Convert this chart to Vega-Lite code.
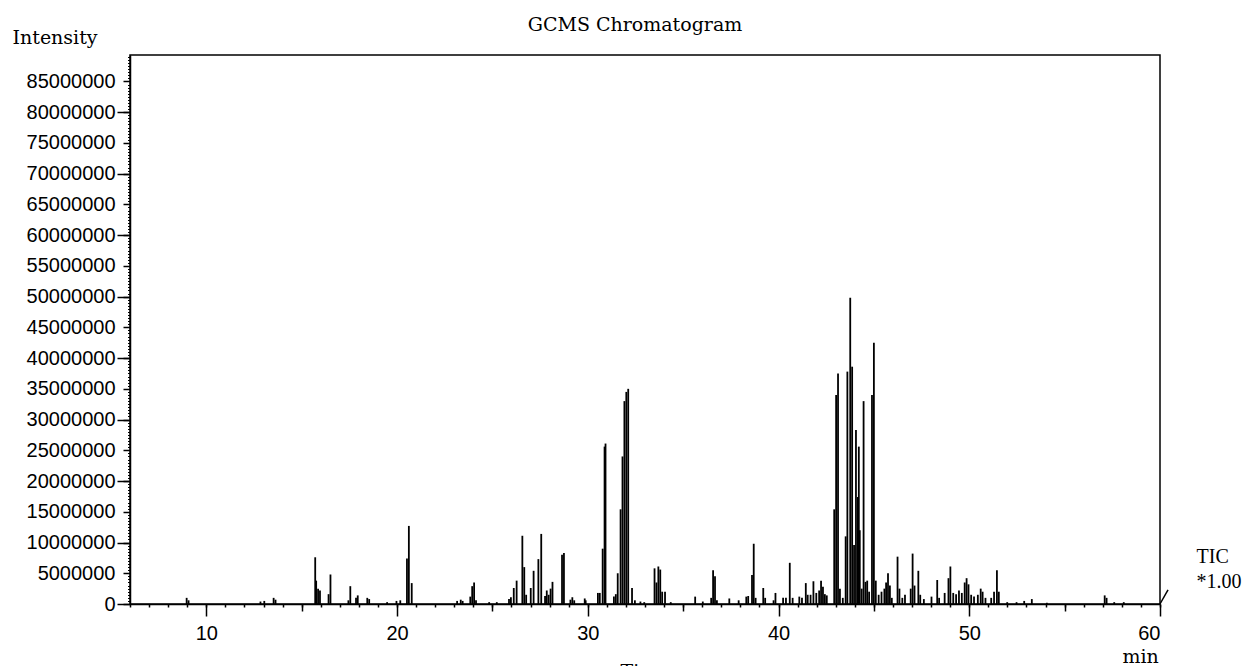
{
  "$schema": "https://vega.github.io/schema/vega-lite/v6.json",
  "width": 1030,
  "height": 549,
  "autosize": {"type": "none"},
  "padding": {"left": 130, "top": 55, "right": 83, "bottom": 62},
  "background": "white",
  "title": {"text": "GCMS Chromatogram", "font": "DejaVu Serif", "fontSize": 19, "fontWeight": "normal", "color": "black", "anchor": "middle", "frame": "group", "dx": -10, "offset": -7},
  "config": {
    "view": {"stroke": "black", "strokeWidth": 1.5},
    "axis": {"grid": false, "domainColor": "black", "tickColor": "black", "labelColor": "black", "titleColor": "black", "labelFont": "Liberation Sans", "labelFontSize": 20, "titleFont": "DejaVu Serif", "titleFontSize": 19, "titleFontWeight": "normal"}
  },
  "datasets": {
    "peaks": [
      {"t": 8.97, "i": 1000000}, {"t": 9.07, "i": 600000},
      {"t": 12.84, "i": 400000}, {"t": 13.04, "i": 500000}, {"t": 13.53, "i": 1000000}, {"t": 13.63, "i": 700000},
      {"t": 15.71, "i": 7600000}, {"t": 15.76, "i": 3800000}, {"t": 15.86, "i": 2500000}, {"t": 15.96, "i": 2200000},
      {"t": 16.41, "i": 1600000}, {"t": 16.51, "i": 4800000},
      {"t": 17.45, "i": 600000}, {"t": 17.55, "i": 2900000}, {"t": 17.85, "i": 1000000}, {"t": 17.94, "i": 1400000},
      {"t": 18.44, "i": 1000000}, {"t": 18.54, "i": 800000}, {"t": 19.48, "i": 300000},
      {"t": 19.97, "i": 500000}, {"t": 20.17, "i": 600000},
      {"t": 20.52, "i": 7400000}, {"t": 20.62, "i": 12700000}, {"t": 20.77, "i": 3400000},
      {"t": 23.15, "i": 500000}, {"t": 23.34, "i": 700000}, {"t": 23.44, "i": 500000},
      {"t": 23.84, "i": 1200000}, {"t": 23.94, "i": 2900000}, {"t": 24.04, "i": 3500000}, {"t": 24.14, "i": 600000},
      {"t": 24.83, "i": 300000}, {"t": 25.23, "i": 300000},
      {"t": 25.87, "i": 800000}, {"t": 25.97, "i": 1100000}, {"t": 26.12, "i": 2600000}, {"t": 26.27, "i": 3800000},
      {"t": 26.57, "i": 11100000}, {"t": 26.67, "i": 6000000}, {"t": 26.77, "i": 1500000},
      {"t": 27.01, "i": 2600000}, {"t": 27.16, "i": 5400000}, {"t": 27.41, "i": 7300000}, {"t": 27.56, "i": 11400000},
      {"t": 27.76, "i": 1300000}, {"t": 27.85, "i": 2200000}, {"t": 27.95, "i": 1500000}, {"t": 28.05, "i": 2500000}, {"t": 28.15, "i": 3600000},
      {"t": 28.65, "i": 8000000}, {"t": 28.75, "i": 8300000},
      {"t": 29.09, "i": 700000}, {"t": 29.19, "i": 1100000}, {"t": 29.29, "i": 600000},
      {"t": 29.84, "i": 900000}, {"t": 29.89, "i": 600000},
      {"t": 30.53, "i": 1800000}, {"t": 30.63, "i": 1800000},
      {"t": 30.78, "i": 9000000}, {"t": 30.88, "i": 25600000}, {"t": 30.93, "i": 26100000},
      {"t": 31.37, "i": 1200000}, {"t": 31.47, "i": 1600000}, {"t": 31.57, "i": 5000000},
      {"t": 31.72, "i": 15400000}, {"t": 31.82, "i": 24000000}, {"t": 31.92, "i": 33000000}, {"t": 32.02, "i": 34500000}, {"t": 32.12, "i": 35000000},
      {"t": 32.32, "i": 2600000}, {"t": 32.47, "i": 600000}, {"t": 32.76, "i": 400000}, {"t": 32.96, "i": 300000},
      {"t": 33.5, "i": 5800000}, {"t": 33.6, "i": 3500000}, {"t": 33.7, "i": 6100000}, {"t": 33.8, "i": 5600000}, {"t": 33.9, "i": 2000000},
      {"t": 34.05, "i": 2000000}, {"t": 34.35, "i": 300000},
      {"t": 35.63, "i": 1200000}, {"t": 36.03, "i": 400000},
      {"t": 36.47, "i": 1000000}, {"t": 36.57, "i": 5500000}, {"t": 36.67, "i": 4500000}, {"t": 36.77, "i": 600000},
      {"t": 37.42, "i": 900000}, {"t": 37.91, "i": 600000},
      {"t": 38.31, "i": 1200000}, {"t": 38.41, "i": 1300000}, {"t": 38.61, "i": 4700000}, {"t": 38.7, "i": 9800000}, {"t": 38.8, "i": 1000000},
      {"t": 39.2, "i": 2600000}, {"t": 39.3, "i": 1000000},
      {"t": 39.74, "i": 600000}, {"t": 39.84, "i": 1800000},
      {"t": 40.24, "i": 1000000}, {"t": 40.39, "i": 1000000}, {"t": 40.59, "i": 6700000}, {"t": 40.74, "i": 1000000},
      {"t": 41.09, "i": 1200000}, {"t": 41.23, "i": 1000000}, {"t": 41.43, "i": 3400000}, {"t": 41.53, "i": 1500000},
      {"t": 41.68, "i": 1500000}, {"t": 41.83, "i": 3700000}, {"t": 41.98, "i": 1800000}, {"t": 42.13, "i": 2200000},
      {"t": 42.23, "i": 3800000}, {"t": 42.33, "i": 2800000}, {"t": 42.43, "i": 1600000}, {"t": 42.53, "i": 1400000},
      {"t": 42.92, "i": 15400000}, {"t": 43.02, "i": 34000000}, {"t": 43.12, "i": 37500000}, {"t": 43.22, "i": 2500000},
      {"t": 43.37, "i": 1000000}, {"t": 43.52, "i": 11000000}, {"t": 43.61, "i": 37800000}, {"t": 43.76, "i": 49800000},
      {"t": 43.86, "i": 38600000}, {"t": 43.96, "i": 9600000}, {"t": 44.06, "i": 28300000}, {"t": 44.16, "i": 17400000},
      {"t": 44.21, "i": 25600000}, {"t": 44.26, "i": 12000000}, {"t": 44.36, "i": 2500000}, {"t": 44.46, "i": 33000000},
      {"t": 44.56, "i": 3600000}, {"t": 44.65, "i": 3800000}, {"t": 44.75, "i": 2000000},
      {"t": 44.9, "i": 34000000}, {"t": 45.0, "i": 42500000}, {"t": 45.1, "i": 3800000},
      {"t": 45.25, "i": 1500000}, {"t": 45.4, "i": 2000000}, {"t": 45.55, "i": 2500000}, {"t": 45.64, "i": 3500000},
      {"t": 45.74, "i": 5000000}, {"t": 45.84, "i": 3000000}, {"t": 45.94, "i": 1000000},
      {"t": 46.24, "i": 7700000}, {"t": 46.34, "i": 2500000}, {"t": 46.49, "i": 1000000}, {"t": 46.63, "i": 1500000},
      {"t": 46.93, "i": 2500000}, {"t": 47.03, "i": 8200000}, {"t": 47.13, "i": 3000000}, {"t": 47.33, "i": 5400000},
      {"t": 47.43, "i": 1500000}, {"t": 47.62, "i": 800000}, {"t": 48.02, "i": 1200000}, {"t": 48.32, "i": 3900000},
      {"t": 48.42, "i": 1000000}, {"t": 48.71, "i": 1800000}, {"t": 48.91, "i": 4200000}, {"t": 49.01, "i": 6100000},
      {"t": 49.16, "i": 1800000}, {"t": 49.31, "i": 1600000}, {"t": 49.46, "i": 2200000}, {"t": 49.61, "i": 1800000},
      {"t": 49.76, "i": 3500000}, {"t": 49.86, "i": 4200000}, {"t": 49.96, "i": 3200000}, {"t": 50.1, "i": 1500000},
      {"t": 50.25, "i": 1200000}, {"t": 50.45, "i": 1500000}, {"t": 50.6, "i": 2500000}, {"t": 50.7, "i": 2000000},
      {"t": 50.85, "i": 1000000}, {"t": 51.15, "i": 1000000}, {"t": 51.3, "i": 2000000}, {"t": 51.45, "i": 5500000},
      {"t": 51.55, "i": 2000000}, {"t": 51.99, "i": 300000}, {"t": 52.48, "i": 300000}, {"t": 52.88, "i": 500000},
      {"t": 53.28, "i": 800000}, {"t": 54.07, "i": 200000},
      {"t": 57.1, "i": 1400000}, {"t": 57.2, "i": 1000000}, {"t": 57.6, "i": 300000}, {"t": 58.1, "i": 300000}
    ],
    "brk": [{"t": 60, "i": 0}, {"t": 60.42, "i": 2300000}]
  },
  "layer": [
    {
      "data": {"name": "peaks"},
      "mark": {"type": "rule", "color": "black", "strokeWidth": 1.8},
      "encoding": {
        "x": {"field": "t", "type": "quantitative", "scale": {"domain": [6, 60], "nice": false, "zero": false},
              "axis": {"orient": "bottom", "values": [10, 20, 30, 40, 50, 60], "tickSize": 12, "tickWidth": 1.5, "domainWidth": 1.5, "labelPadding": 7, "title": "Time", "titleAlign": "left", "titleAnchor": null, "titleX": 490, "titleY": 58, "titleBaseline": "top"}},
        "y": {"field": "i", "type": "quantitative", "scale": {"domain": [0, 89300000], "nice": false},
              "axis": {"orient": "left", "tickCount": 18, "format": "d", "tickSize": 7, "tickWidth": 1.5, "domainWidth": 1.5, "labelPadding": 8, "title": "Intensity", "titleAngle": 0, "titleAlign": "left", "titleBaseline": "alphabetic", "titleX": -118, "titleY": -12}},
        "y2": {"datum": 0}
      }
    },
    {
      "data": {"name": "peaks"},
      "mark": {"type": "rule", "strokeOpacity": 0},
      "encoding": {
        "x": {"field": "t", "type": "quantitative", "axis": {"orient": "bottom", "values": [15, 25, 35, 45, 55], "tickSize": 7, "tickWidth": 1.5, "labels": false, "domain": false, "title": null}},
        "y": {"field": "i", "type": "quantitative", "axis": {"orient": "left", "tickCount": 9, "tickSize": 13, "tickWidth": 1.5, "labels": false, "domain": false, "title": null}}
      }
    },
    {
      "data": {"name": "peaks"},
      "mark": {"type": "rule", "strokeOpacity": 0},
      "encoding": {
        "x": {"field": "t", "type": "quantitative", "axis": {"orient": "bottom", "tickCount": 54, "tickSize": 3, "tickWidth": 1.5, "labels": false, "domain": false, "title": "min", "titleAlign": "left", "titleAnchor": null, "titleX": 992, "titleY": 58, "titleBaseline": "alphabetic"}},
        "y": {"field": "i", "type": "quantitative", "axis": {"orient": "left", "tickCount": 179, "tickSize": 2.5, "tickWidth": 1, "labels": false, "domain": false, "title": null}}
      }
    },
    {
      "data": {"name": "brk"},
      "mark": {"type": "line", "color": "black", "strokeWidth": 1.5, "clip": false},
      "encoding": {
        "x": {"field": "t", "type": "quantitative", "axis": null},
        "y": {"field": "i", "type": "quantitative", "axis": {"orient": "right", "ticks": false, "labels": false, "domain": false, "title": ["TIC", "*1.00"], "titleFont": "Liberation Serif", "titleFontSize": 20, "titleAngle": 0, "titleAlign": "left", "titleAnchor": null, "titleBaseline": "alphabetic", "titleX": 36, "titleY": 507, "titleLineHeight": 25}}
      }
    }
  ],
  "resolve": {"axis": {"x": "independent", "y": "independent"}, "scale": {"x": "shared", "y": "shared"}}
}
